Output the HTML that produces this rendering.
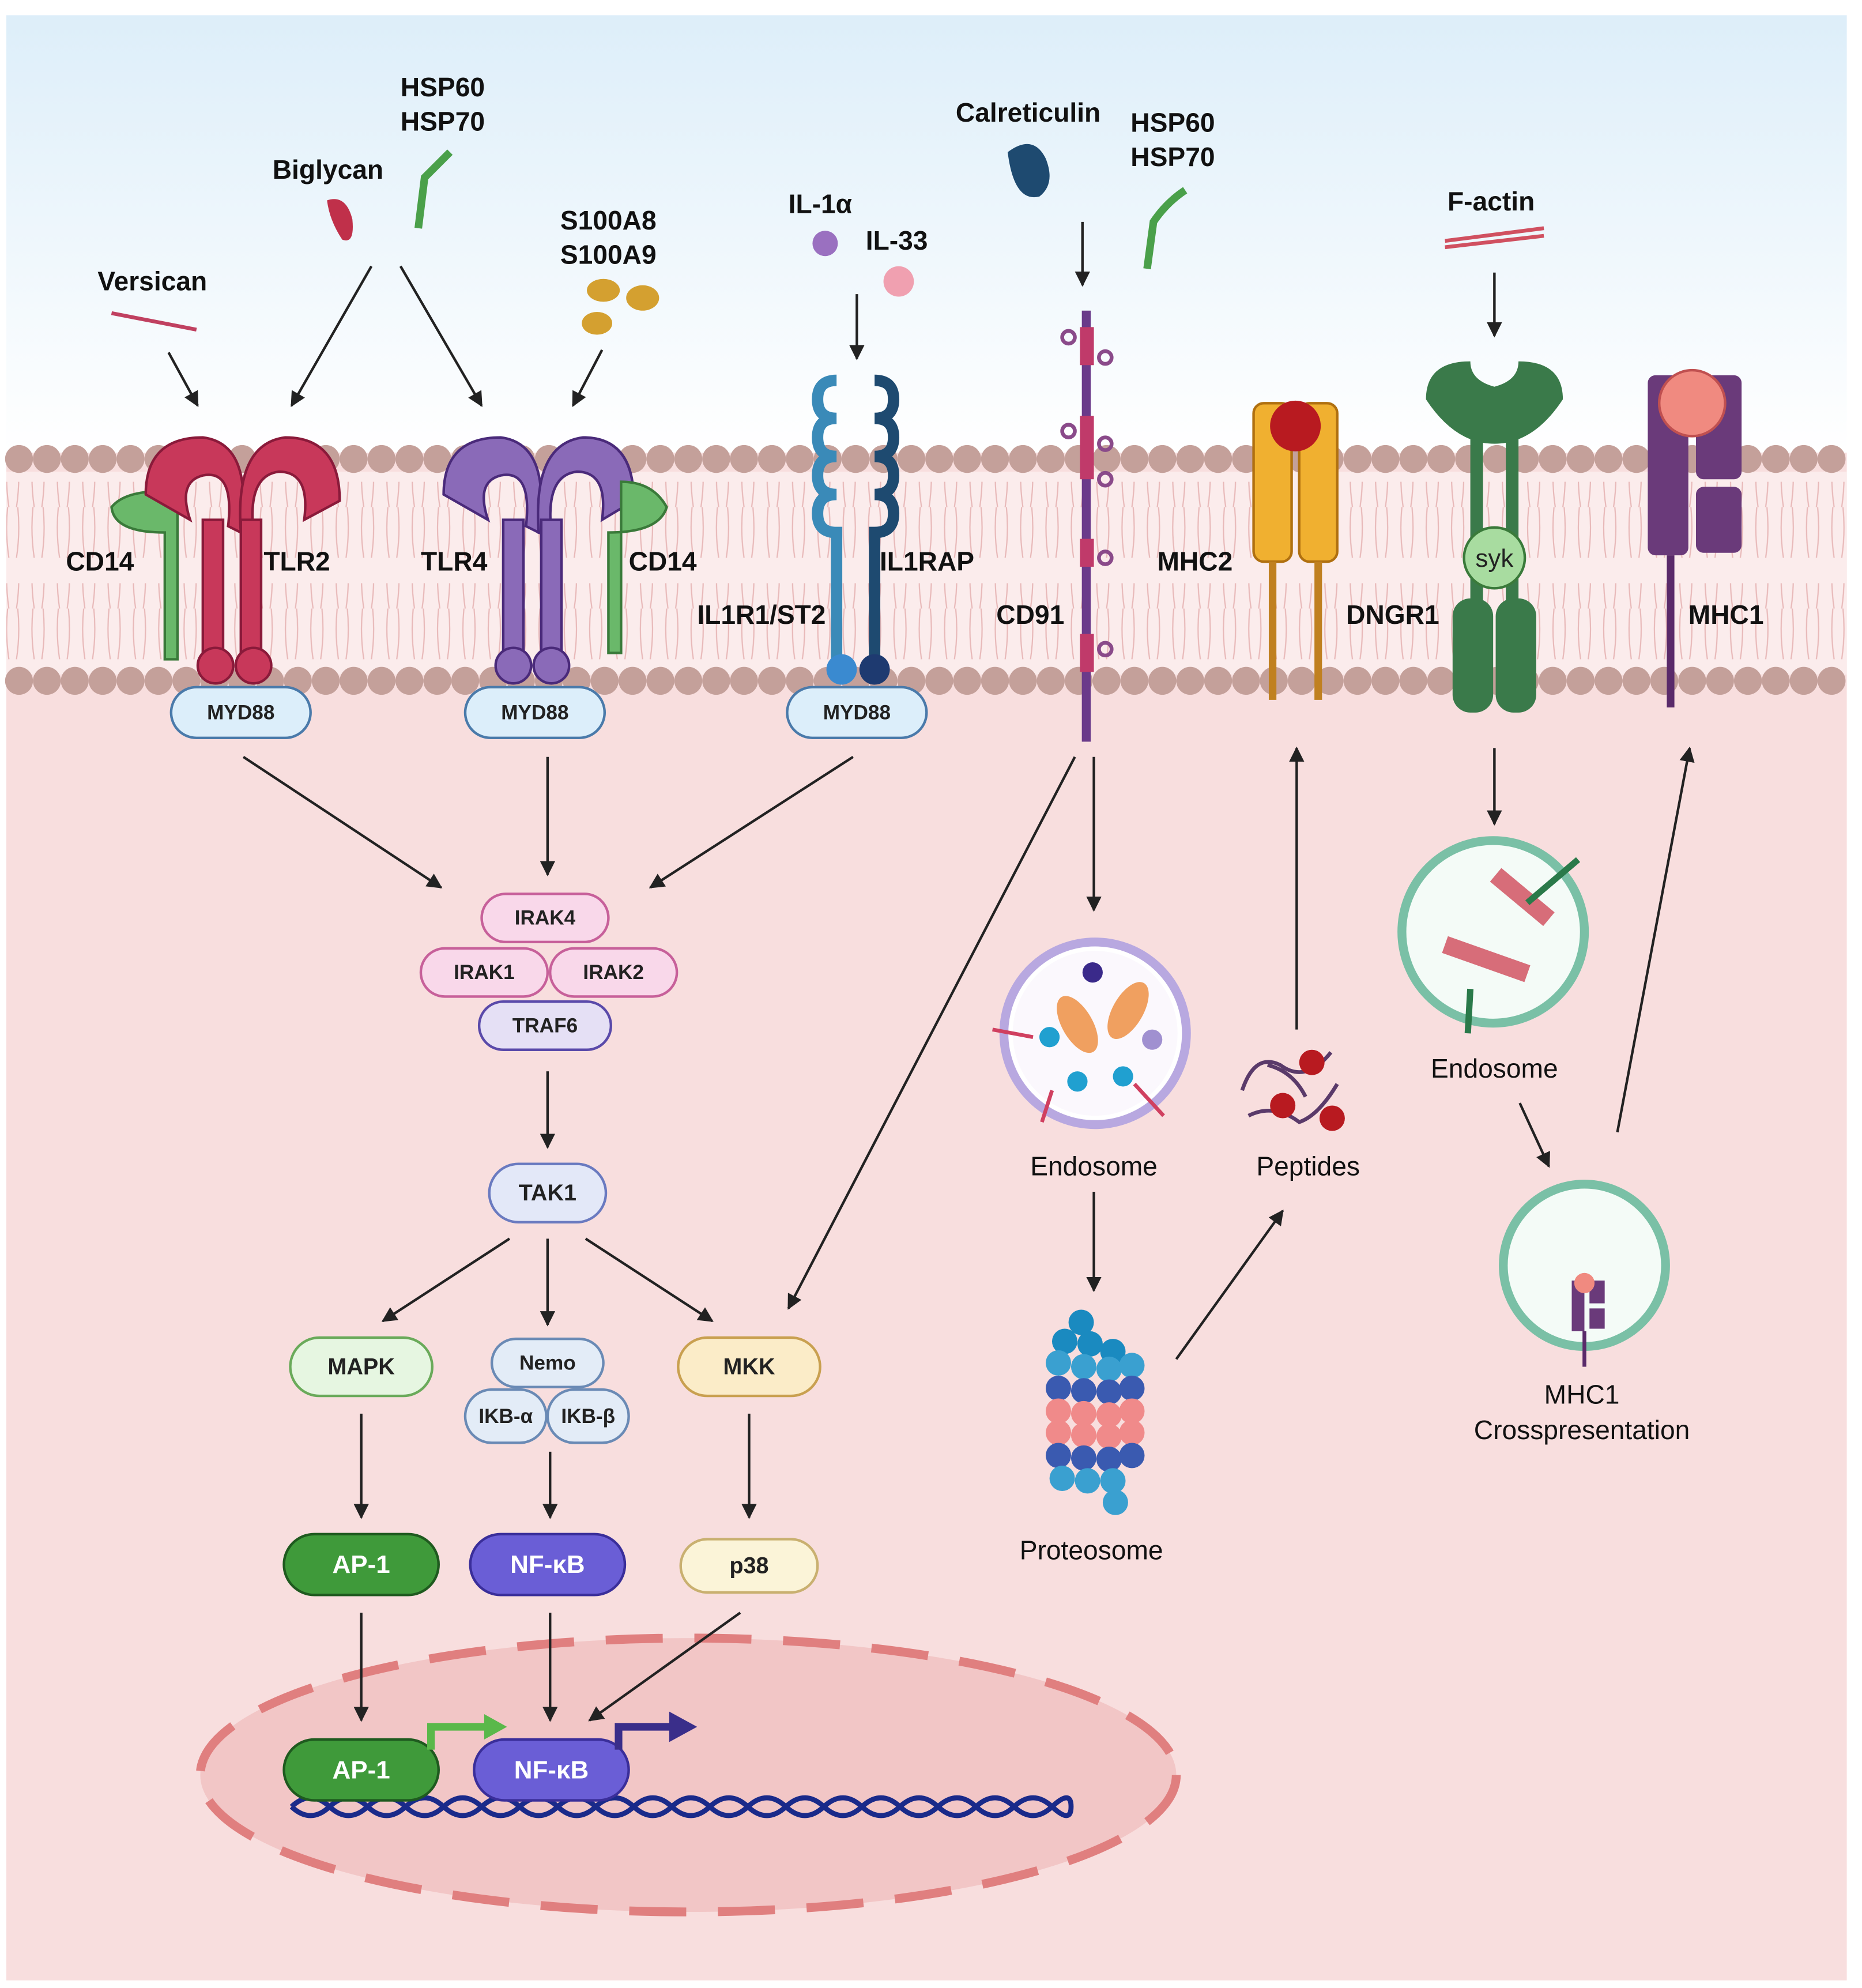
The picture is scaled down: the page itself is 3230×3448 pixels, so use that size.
<!DOCTYPE html>
<html><head><meta charset="utf-8"><style>
html,body{margin:0;padding:0;background:#fff;}
svg{display:block;}
text{font-family:"Liberation Sans",Arial,sans-serif;}
.lb{font-weight:bold;font-size:21px;fill:#111;}
.nl{font-weight:bold;font-size:16px;fill:#222;text-anchor:middle;dominant-baseline:central;}
.rl{font-size:21px;fill:#111;text-anchor:middle;}
.ar{stroke:#222;stroke-width:2;fill:none;marker-end:url(#ah);}
</style></head><body>
<svg width="3230" height="3448" viewBox="0 0 1469 1568" preserveAspectRatio="none" xmlns="http://www.w3.org/2000/svg">
<defs>
<marker id="ah" viewBox="0 0 10 10" refX="9" refY="5" markerWidth="6" markerHeight="6" orient="auto"><path d="M0,0 L10,5 L0,10 z" fill="#222"/></marker>
<linearGradient id="sky" x1="0" y1="0" x2="0" y2="1"><stop offset="0" stop-color="#ddeef9"/><stop offset="1" stop-color="#ffffff"/></linearGradient>
<pattern id="tails" x="0" y="0" width="20" height="40" patternUnits="userSpaceOnUse"><path d="M6,0 Q4,20 7,40 M14,0 Q16,20 13,40" stroke="#e8b9b9" stroke-width="1" fill="none"/></pattern>
</defs>
<rect x="0" y="0" width="1469" height="1568" fill="#fff"/>
<rect x="5" y="12" width="1452" height="345" fill="url(#sky)"/>
<rect x="5" y="357" width="1452" height="1205" fill="#f8dede"/>
<rect x="5" y="372" width="1452" height="160" fill="#fbecec"/>
<rect x="5" y="380" width="1452" height="60" fill="url(#tails)"/>
<rect x="5" y="460" width="1452" height="60" fill="url(#tails)"/>
<g fill="#c4a09a">
<circle cx="15" cy="362" r="11"/><circle cx="37" cy="362" r="11"/><circle cx="59" cy="362" r="11"/><circle cx="81" cy="362" r="11"/><circle cx="103" cy="362" r="11"/><circle cx="125" cy="362" r="11"/><circle cx="147" cy="362" r="11"/><circle cx="169" cy="362" r="11"/><circle cx="191" cy="362" r="11"/><circle cx="213" cy="362" r="11"/><circle cx="235" cy="362" r="11"/><circle cx="257" cy="362" r="11"/><circle cx="279" cy="362" r="11"/><circle cx="301" cy="362" r="11"/><circle cx="323" cy="362" r="11"/><circle cx="345" cy="362" r="11"/><circle cx="367" cy="362" r="11"/><circle cx="389" cy="362" r="11"/><circle cx="411" cy="362" r="11"/><circle cx="433" cy="362" r="11"/><circle cx="455" cy="362" r="11"/><circle cx="477" cy="362" r="11"/><circle cx="499" cy="362" r="11"/><circle cx="521" cy="362" r="11"/><circle cx="543" cy="362" r="11"/><circle cx="565" cy="362" r="11"/><circle cx="587" cy="362" r="11"/><circle cx="609" cy="362" r="11"/><circle cx="631" cy="362" r="11"/><circle cx="653" cy="362" r="11"/><circle cx="675" cy="362" r="11"/><circle cx="697" cy="362" r="11"/><circle cx="719" cy="362" r="11"/><circle cx="741" cy="362" r="11"/><circle cx="763" cy="362" r="11"/><circle cx="785" cy="362" r="11"/><circle cx="807" cy="362" r="11"/><circle cx="829" cy="362" r="11"/><circle cx="851" cy="362" r="11"/><circle cx="873" cy="362" r="11"/><circle cx="895" cy="362" r="11"/><circle cx="917" cy="362" r="11"/><circle cx="939" cy="362" r="11"/><circle cx="961" cy="362" r="11"/><circle cx="983" cy="362" r="11"/><circle cx="1005" cy="362" r="11"/><circle cx="1027" cy="362" r="11"/><circle cx="1049" cy="362" r="11"/><circle cx="1071" cy="362" r="11"/><circle cx="1093" cy="362" r="11"/><circle cx="1115" cy="362" r="11"/><circle cx="1137" cy="362" r="11"/><circle cx="1159" cy="362" r="11"/><circle cx="1181" cy="362" r="11"/><circle cx="1203" cy="362" r="11"/><circle cx="1225" cy="362" r="11"/><circle cx="1247" cy="362" r="11"/><circle cx="1269" cy="362" r="11"/><circle cx="1291" cy="362" r="11"/><circle cx="1313" cy="362" r="11"/><circle cx="1335" cy="362" r="11"/><circle cx="1357" cy="362" r="11"/><circle cx="1379" cy="362" r="11"/><circle cx="1401" cy="362" r="11"/><circle cx="1423" cy="362" r="11"/><circle cx="1445" cy="362" r="11"/>
<circle cx="15" cy="537" r="11"/><circle cx="37" cy="537" r="11"/><circle cx="59" cy="537" r="11"/><circle cx="81" cy="537" r="11"/><circle cx="103" cy="537" r="11"/><circle cx="125" cy="537" r="11"/><circle cx="147" cy="537" r="11"/><circle cx="169" cy="537" r="11"/><circle cx="191" cy="537" r="11"/><circle cx="213" cy="537" r="11"/><circle cx="235" cy="537" r="11"/><circle cx="257" cy="537" r="11"/><circle cx="279" cy="537" r="11"/><circle cx="301" cy="537" r="11"/><circle cx="323" cy="537" r="11"/><circle cx="345" cy="537" r="11"/><circle cx="367" cy="537" r="11"/><circle cx="389" cy="537" r="11"/><circle cx="411" cy="537" r="11"/><circle cx="433" cy="537" r="11"/><circle cx="455" cy="537" r="11"/><circle cx="477" cy="537" r="11"/><circle cx="499" cy="537" r="11"/><circle cx="521" cy="537" r="11"/><circle cx="543" cy="537" r="11"/><circle cx="565" cy="537" r="11"/><circle cx="587" cy="537" r="11"/><circle cx="609" cy="537" r="11"/><circle cx="631" cy="537" r="11"/><circle cx="653" cy="537" r="11"/><circle cx="675" cy="537" r="11"/><circle cx="697" cy="537" r="11"/><circle cx="719" cy="537" r="11"/><circle cx="741" cy="537" r="11"/><circle cx="763" cy="537" r="11"/><circle cx="785" cy="537" r="11"/><circle cx="807" cy="537" r="11"/><circle cx="829" cy="537" r="11"/><circle cx="851" cy="537" r="11"/><circle cx="873" cy="537" r="11"/><circle cx="895" cy="537" r="11"/><circle cx="917" cy="537" r="11"/><circle cx="939" cy="537" r="11"/><circle cx="961" cy="537" r="11"/><circle cx="983" cy="537" r="11"/><circle cx="1005" cy="537" r="11"/><circle cx="1027" cy="537" r="11"/><circle cx="1049" cy="537" r="11"/><circle cx="1071" cy="537" r="11"/><circle cx="1093" cy="537" r="11"/><circle cx="1115" cy="537" r="11"/><circle cx="1137" cy="537" r="11"/><circle cx="1159" cy="537" r="11"/><circle cx="1181" cy="537" r="11"/><circle cx="1203" cy="537" r="11"/><circle cx="1225" cy="537" r="11"/><circle cx="1247" cy="537" r="11"/><circle cx="1269" cy="537" r="11"/><circle cx="1291" cy="537" r="11"/><circle cx="1313" cy="537" r="11"/><circle cx="1335" cy="537" r="11"/><circle cx="1357" cy="537" r="11"/><circle cx="1379" cy="537" r="11"/><circle cx="1401" cy="537" r="11"/><circle cx="1423" cy="537" r="11"/><circle cx="1445" cy="537" r="11"/>
</g>

<ellipse cx="543" cy="1400" rx="385" ry="108" fill="#f2c6c6" stroke="#e07f7f" stroke-width="7" stroke-dasharray="45,25"/>
<path d="M230,1425 q15,-14 30,0 t30,0 t30,0 t30,0 t30,0 t30,0 t30,0 t30,0 t30,0 t30,0 t30,0 t30,0 t30,0 t30,0 t30,0 t30,0 t30,0 t30,0 t30,0 t30,0 t15,0" stroke="#1a2a8a" stroke-width="4" fill="none"/>
<path d="M230,1425 q15,14 30,0 t30,0 t30,0 t30,0 t30,0 t30,0 t30,0 t30,0 t30,0 t30,0 t30,0 t30,0 t30,0 t30,0 t30,0 t30,0 t30,0 t30,0 t30,0 t30,0 t15,0" stroke="#1a2a8a" stroke-width="4" fill="none"/>

<text class="lb" x="77" y="229">Versican</text>
<path d="M88,247 L155,260" stroke="#c04060" stroke-width="3"/>
<text class="lb" x="215" y="141">Biglycan</text>
<path d="M258,158 q15,-5 20,15 q2,20 -8,16 q-10,-15 -12,-31z" fill="#c0304a"/>
<text class="lb" x="316" y="76">HSP60</text><text class="lb" x="316" y="103">HSP70</text>
<path d="M330,180 L335,140 Q345,130 355,120" stroke="#4aa04a" stroke-width="6" fill="none"/>
<text class="lb" x="442" y="181">S100A8</text><text class="lb" x="442" y="208">S100A9</text>
<g fill="#d4a030"><ellipse cx="476" cy="229" rx="13" ry="9"/><ellipse cx="507" cy="235" rx="13" ry="10"/><ellipse cx="471" cy="255" rx="12" ry="9"/></g>
<text class="lb" x="622" y="168">IL-1α</text><text class="lb" x="683" y="197">IL-33</text>
<circle cx="651" cy="192" r="10" fill="#9a70c0"/><circle cx="709" cy="222" r="12" fill="#f0a0b0"/>
<text class="lb" x="754" y="96">Calreticulin</text>
<path d="M795,120 q20,-15 30,5 q8,20 -5,30 q-20,5 -25,-35z" fill="#1e4a70"/>
<text class="lb" x="892" y="104">HSP60</text><text class="lb" x="892" y="131">HSP70</text>
<path d="M905,212 L910,175 Q920,160 935,150" stroke="#4aa04a" stroke-width="6" fill="none"/>
<text class="lb" x="1142" y="166">F-actin</text>
<path d="M1140,190 L1218,180 M1140,195 L1218,186" stroke="#d05060" stroke-width="3"/>

<line class="ar" x1="133" y1="278" x2="156" y2="320"/>
<line class="ar" x1="293" y1="210" x2="230" y2="320"/>
<line class="ar" x1="316" y1="210" x2="380" y2="320"/>
<line class="ar" x1="475" y1="276" x2="452" y2="320"/>
<line class="ar" x1="676" y1="232" x2="676" y2="283"/>
<line class="ar" x1="854" y1="175" x2="854" y2="225"/>
<line class="ar" x1="1179" y1="215" x2="1179" y2="265"/>

<path d="M130,520 L130,420 Q90,420 88,400 Q100,385 140,388 L140,520z" fill="#6ab86a" stroke="#3a7a3a" stroke-width="2"/>
<g fill="#c8385a" stroke="#8a1a3a" stroke-width="2">
<path d="M115,390 Q115,345 160,345 Q200,350 190,420 L180,415 Q185,370 160,375 Q140,380 150,410z"/>
<path d="M268,395 Q268,345 225,345 Q185,350 190,420 L200,420 Q195,375 220,372 Q245,372 240,410z"/>
<rect x="160" y="410" width="16" height="120"/><rect x="190" y="410" width="16" height="120"/>
<circle cx="170" cy="525" r="14"/><circle cx="200" cy="525" r="14"/>
</g>
<text class="lb" x="52" y="450">CD14</text><text class="lb" x="208" y="450">TLR2</text>
<g fill="#8a6ab8" stroke="#4a2a7a" stroke-width="2">
<path d="M350,390 Q350,345 395,345 Q435,350 425,420 L415,415 Q420,370 395,375 Q375,380 385,410z"/>
<path d="M500,395 Q500,345 460,345 Q420,350 425,420 L435,420 Q430,375 455,372 Q480,372 475,410z"/>
<rect x="397" y="410" width="16" height="120"/><rect x="427" y="410" width="16" height="120"/>
<circle cx="405" cy="525" r="14"/><circle cx="435" cy="525" r="14"/>
</g>
<path d="M480,515 L480,420 Q520,420 526,400 Q515,380 490,380 L490,515z" fill="#6ab86a" stroke="#3a7a3a" stroke-width="2"/>
<text class="lb" x="332" y="450">TLR4</text><text class="lb" x="496" y="450">CD14</text>
<g fill="none" stroke-width="9">
<path d="M660,300 q-15,0 -15,15 q0,15 15,15 q-15,0 -15,15 q0,15 15,15 q-15,0 -15,15 q0,15 15,15 q-15,0 -15,15 q0,15 15,15 L660,530" stroke="#3a8ab8"/>
<path d="M690,300 q15,0 15,15 q0,15 -15,15 q15,0 15,15 q0,15 -15,15 q15,0 15,15 q0,15 -15,15 q15,0 15,15 q0,15 -15,15 L690,530" stroke="#1e4a70"/>
</g>
<circle cx="664" cy="528" r="12" fill="#3a8ad0"/><circle cx="690" cy="528" r="12" fill="#1e3a70"/>
<text class="lb" x="694" y="450">IL1RAP</text><text class="lb" x="550" y="492">IL1R1/ST2</text>
<line x1="857" y1="245" x2="857" y2="585" stroke="#6a3a8a" stroke-width="7"/>
<g fill="#c03a6a"><rect x="852" y="258" width="11" height="30"/><rect x="852" y="328" width="11" height="50"/><rect x="852" y="425" width="11" height="22"/><rect x="852" y="500" width="11" height="30"/></g>
<g fill="none" stroke="#8a4a8a" stroke-width="3"><circle cx="843" cy="266" r="5"/><circle cx="872" cy="282" r="5"/><circle cx="843" cy="340" r="5"/><circle cx="872" cy="350" r="5"/><circle cx="872" cy="378" r="5"/><circle cx="872" cy="440" r="5"/><circle cx="872" cy="512" r="5"/></g>
<text class="lb" x="786" y="492">CD91</text>
<g fill="#f0b030" stroke="#b07010" stroke-width="2"><rect x="989" y="318" width="30" height="125" rx="8"/><rect x="1025" y="318" width="30" height="125" rx="8"/></g>
<line x1="1004" y1="443" x2="1004" y2="552" stroke="#c08020" stroke-width="6"/><line x1="1040" y1="443" x2="1040" y2="552" stroke="#c08020" stroke-width="6"/>
<circle cx="1022" cy="336" r="20" fill="#b81a20"/>
<text class="lb" x="913" y="450">MHC2</text>
<path d="M1125,315 Q1125,285 1160,285 Q1160,300 1179,305 Q1198,300 1198,285 Q1233,285 1233,315 Q1210,350 1179,350 Q1148,350 1125,315z" fill="#3a7a4a"/>
<rect x="1160" y="340" width="10" height="140" fill="#3a7a4a"/><rect x="1188" y="340" width="10" height="140" fill="#3a7a4a"/>
<rect x="1146" y="472" width="32" height="90" rx="14" fill="#3a7a4a"/><rect x="1180" y="472" width="32" height="90" rx="14" fill="#3a7a4a"/>
<circle cx="1179" cy="440" r="24" fill="#a8dca0" stroke="#3a7a3a" stroke-width="2"/>
<text x="1179" y="447" font-size="20" text-anchor="middle" fill="#222">syk</text>
<text class="lb" x="1062" y="492">DNGR1</text>
<g fill="#6a3a7a"><rect x="1300" y="296" width="32" height="142" rx="6"/><rect x="1338" y="296" width="36" height="82" rx="6"/><rect x="1338" y="384" width="36" height="52" rx="6"/></g>
<line x1="1318" y1="438" x2="1318" y2="558" stroke="#5a2a6a" stroke-width="6"/>
<circle cx="1335" cy="318" r="26" fill="#f08a80" stroke="#c05050" stroke-width="2"/>
<text class="lb" x="1332" y="492">MHC1</text>

<g stroke-width="2">
<rect x="135" y="542" width="110" height="40" rx="20" fill="#dceefa" stroke="#4a7aaa"/>
<rect x="367" y="542" width="110" height="40" rx="20" fill="#dceefa" stroke="#4a7aaa"/>
<rect x="621" y="542" width="110" height="40" rx="20" fill="#dceefa" stroke="#4a7aaa"/>
<rect x="380" y="705" width="100" height="38" rx="19" fill="#f9d8ea" stroke="#c7609a"/>
<rect x="332" y="748" width="100" height="38" rx="19" fill="#f9d8ea" stroke="#c7609a"/>
<rect x="434" y="748" width="100" height="38" rx="19" fill="#f9d8ea" stroke="#c7609a"/>
<rect x="378" y="790" width="104" height="38" rx="19" fill="#e5e0f5" stroke="#5a4aaa"/>
<rect x="386" y="918" width="92" height="46" rx="23" fill="#e3e8f8" stroke="#6a7ac0"/>
<rect x="229" y="1055" width="112" height="46" rx="23" fill="#e6f6e1" stroke="#6aaa5a"/>
<rect x="388" y="1056" width="88" height="38" rx="19" fill="#e3ecf7" stroke="#6a8ab5"/>
<rect x="367" y="1096" width="64" height="42" rx="21" fill="#e3ecf7" stroke="#6a8ab5"/>
<rect x="432" y="1096" width="64" height="42" rx="21" fill="#e3ecf7" stroke="#6a8ab5"/>
<rect x="535" y="1055" width="112" height="46" rx="23" fill="#fbecc8" stroke="#c9a050"/>
<rect x="224" y="1210" width="122" height="48" rx="24" fill="#3f9a3a" stroke="#1f5a1f"/>
<rect x="371" y="1210" width="122" height="48" rx="24" fill="#6a5ed6" stroke="#3a2e9a"/>
<rect x="537" y="1214" width="108" height="42" rx="21" fill="#fbf4d8" stroke="#c9b070"/>
<rect x="224" y="1372" width="122" height="48" rx="24" fill="#3f9a3a" stroke="#1f5a1f"/>
<rect x="374" y="1372" width="122" height="48" rx="24" fill="#6a5ed6" stroke="#3a2e9a"/>
</g>
<text class="nl" x="190" y="562">MYD88</text><text class="nl" x="422" y="562">MYD88</text><text class="nl" x="676" y="562">MYD88</text>
<text class="nl" x="430" y="724">IRAK4</text><text class="nl" x="382" y="767">IRAK1</text><text class="nl" x="484" y="767">IRAK2</text><text class="nl" x="430" y="809">TRAF6</text>
<text class="nl" x="432" y="941" style="font-size:18px">TAK1</text>
<text class="nl" x="285" y="1078" style="font-size:18px">MAPK</text>
<text class="nl" x="432" y="1075">Nemo</text><text class="nl" x="399" y="1117">IKB-α</text><text class="nl" x="464" y="1117">IKB-β</text>
<text class="nl" x="591" y="1078" style="font-size:18px">MKK</text>
<text class="nl" x="285" y="1234" style="font-size:20px;fill:#fff">AP-1</text>
<text class="nl" x="432" y="1234" style="font-size:20px;fill:#fff">NF-κB</text>
<text class="nl" x="591" y="1235" style="font-size:18px">p38</text>
<text class="nl" x="285" y="1396" style="font-size:20px;fill:#fff">AP-1</text>
<text class="nl" x="435" y="1396" style="font-size:20px;fill:#fff">NF-κB</text>
<path d="M340,1380 L340,1362 L385,1362" stroke="#5ab84a" stroke-width="6" fill="none"/><path d="M382,1352 L400,1362 L382,1372z" fill="#5ab84a"/>
<path d="M488,1380 L488,1362 L530,1362" stroke="#3a2e8a" stroke-width="6" fill="none"/><path d="M528,1350 L550,1362 L528,1374z" fill="#3a2e8a"/>

<line class="ar" x1="192" y1="597" x2="348" y2="700"/>
<line class="ar" x1="432" y1="597" x2="432" y2="690"/>
<line class="ar" x1="673" y1="597" x2="513" y2="700"/>
<line class="ar" x1="432" y1="845" x2="432" y2="905"/>
<line class="ar" x1="402" y1="977" x2="302" y2="1042"/>
<line class="ar" x1="432" y1="977" x2="432" y2="1045"/>
<line class="ar" x1="462" y1="977" x2="562" y2="1042"/>
<line class="ar" x1="848" y1="597" x2="622" y2="1032"/>
<line class="ar" x1="285" y1="1115" x2="285" y2="1197"/>
<line class="ar" x1="434" y1="1145" x2="434" y2="1197"/>
<line class="ar" x1="591" y1="1115" x2="591" y2="1197"/>
<line class="ar" x1="285" y1="1272" x2="285" y2="1357"/>
<line class="ar" x1="434" y1="1272" x2="434" y2="1357"/>
<line class="ar" x1="584" y1="1272" x2="465" y2="1357"/>
<line class="ar" x1="863" y1="597" x2="863" y2="718"/>
<line class="ar" x1="863" y1="940" x2="863" y2="1018"/>
<line class="ar" x1="928" y1="1072" x2="1012" y2="955"/>
<line class="ar" x1="1023" y1="812" x2="1023" y2="590"/>
<line class="ar" x1="1179" y1="590" x2="1179" y2="650"/>
<line class="ar" x1="1199" y1="870" x2="1222" y2="920"/>
<line class="ar" x1="1276" y1="893" x2="1333" y2="590"/>

<circle cx="864" cy="815" r="72" fill="#fff" stroke="#b8a8e0" stroke-width="7"/>
<circle cx="864" cy="815" r="65" fill="#fbf8fd"/>
<ellipse cx="850" cy="808" rx="12" ry="25" fill="#f0a060" transform="rotate(-30 850 808)"/>
<ellipse cx="890" cy="797" rx="12" ry="25" fill="#f0a060" transform="rotate(30 890 797)"/>
<circle cx="862" cy="767" r="8" fill="#3a2a8a"/><circle cx="909" cy="820" r="8" fill="#a090d0"/>
<g stroke="#d04060" stroke-width="3" fill="none"><path d="M783,812 L815,818"/><path d="M830,860 L822,885"/><path d="M895,855 L918,880"/></g>
<circle cx="828" cy="818" r="8" fill="#20a0d0"/><circle cx="850" cy="853" r="8" fill="#20a0d0"/><circle cx="886" cy="849" r="8" fill="#20a0d0"/>
<text class="rl" x="863" y="927">Endosome</text>
<g stroke="#5a3a6a" stroke-width="3" fill="none"><path d="M980,860 q10,-30 30,-20 q20,15 40,-10 M985,880 q20,-10 40,5 q15,-5 30,-30 M1000,840 q20,5 30,25"/></g>
<circle cx="1035" cy="838" r="10" fill="#b81a20"/><circle cx="1012" cy="872" r="10" fill="#b81a20"/><circle cx="1051" cy="882" r="10" fill="#b81a20"/>
<text class="rl" x="1032" y="927">Peptides</text>
<g>
<g fill="#1a8ac0"><circle cx="853" cy="1043" r="10"/><circle cx="840" cy="1058" r="10"/><circle cx="860" cy="1060" r="10"/><circle cx="878" cy="1066" r="10"/></g>
<g fill="#3aa0d0"><circle cx="835" cy="1075" r="10"/><circle cx="855" cy="1078" r="10"/><circle cx="875" cy="1080" r="10"/><circle cx="893" cy="1077" r="10"/></g>
<g fill="#3a5ab0"><circle cx="835" cy="1095" r="10"/><circle cx="855" cy="1097" r="10"/><circle cx="875" cy="1098" r="10"/><circle cx="893" cy="1095" r="10"/></g>
<g fill="#f08a8a"><circle cx="835" cy="1113" r="10"/><circle cx="855" cy="1115" r="10"/><circle cx="875" cy="1116" r="10"/><circle cx="893" cy="1113" r="10"/><circle cx="835" cy="1130" r="10"/><circle cx="855" cy="1132" r="10"/><circle cx="875" cy="1133" r="10"/><circle cx="893" cy="1130" r="10"/></g>
<g fill="#3a5ab0"><circle cx="835" cy="1148" r="10"/><circle cx="855" cy="1150" r="10"/><circle cx="875" cy="1151" r="10"/><circle cx="893" cy="1148" r="10"/></g>
<g fill="#3aa0d0"><circle cx="838" cy="1166" r="10"/><circle cx="858" cy="1168" r="10"/><circle cx="878" cy="1168" r="10"/><circle cx="880" cy="1185" r="10"/></g>
</g>
<text class="rl" x="861" y="1230">Proteosome</text>
<circle cx="1178" cy="735" r="72" fill="#f4fbf7" stroke="#7ac0a6" stroke-width="7"/>
<path d="M1180,690 L1222,725 M1140,745 L1205,768" stroke="#d04a5a" stroke-width="14" opacity="0.8"/>
<g stroke="#2a7a4a" stroke-width="5" fill="none"><path d="M1205,712 L1245,678"/><path d="M1160,780 L1158,815"/></g>
<text class="rl" x="1179" y="850">Endosome</text>
<circle cx="1250" cy="998" r="64" fill="#f4fbf7" stroke="#7ac0a6" stroke-width="7"/>
<rect x="1240" y="1010" width="10" height="40" fill="#6a3a7a"/><rect x="1254" y="1010" width="12" height="18" fill="#6a3a7a"/><rect x="1254" y="1032" width="12" height="16" fill="#6a3a7a"/>
<circle cx="1250" cy="1012" r="8" fill="#f08a80"/>
<line x1="1250" y1="1050" x2="1250" y2="1078" stroke="#5a2a6a" stroke-width="3"/>
<text class="rl" x="1248" y="1107">MHC1</text>
<text class="rl" x="1248" y="1135">Crosspresentation</text>
</svg>
</body></html>
